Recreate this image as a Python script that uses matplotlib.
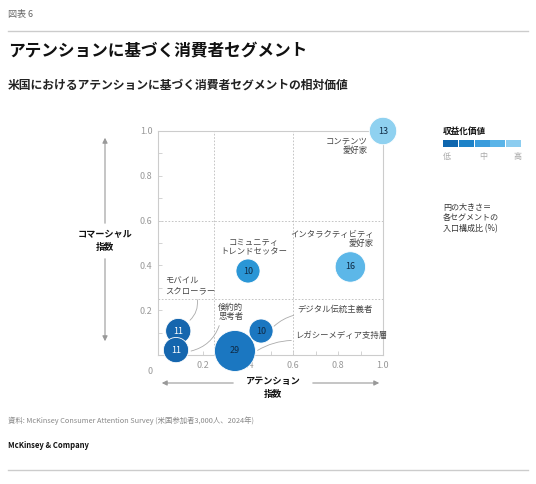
import matplotlib
matplotlib.use("Agg")
import matplotlib.pyplot as plt
from matplotlib.patches import FancyArrowPatch, Rectangle

plt.rcParams['font.family'] = ['Noto Sans CJK JP', 'DejaVu Sans']

# data
segments = ["コンテンツ\n愛好家", "インタラクティビティ\n愛好家", "コミュニティ\nトレンドセッター",
            "モバイル\nスクローラー", "倹約的\n思考者", "レガシーメディア支持層", "デジタル伝統主義者"]
attention = [1.0, 0.855, 0.40, 0.09, 0.08, 0.342, 0.458]
commercial = [1.0, 0.393, 0.375, 0.107, 0.022, 0.018, 0.107]
share = [13, 16, 10, 11, 11, 29, 10]
value_level = [4, 3, 2, 0, 0, 1, 1]

palette = ["#1566ae", "#1b77c1", "#2a96d6", "#5cb7e8", "#8fd1f0"]
legend_colors = ["#0e66ae", "#1d82c8", "#3a9cdc", "#5ab4e8", "#8ccdf0"]
legend_labels = ["低", "中", "高"]
ticks = [0.2, 0.4, 0.6, 0.8, 1.0]

W, H = 536, 484
fig = plt.figure(figsize=(W / 100, H / 100), dpi=100)


def fx(x):
    return x / W


def fy(y):
    return 1 - y / H


# header / footer
fig.text(fx(8), fy(15), "図表 6", fontsize=6.5, color="#666666", va="center")
fig.add_artist(plt.Line2D([fx(8), fx(528)], [fy(31), fy(31)], color="#cccccc", lw=1))
fig.text(fx(8), fy(51), "アテンションに基づく消費者セグメント", fontsize=12, fontweight="bold",
         color="#111111", va="center")
fig.text(fx(8), fy(85), "米国におけるアテンションに基づく消費者セグメントの相対価値", fontsize=8.5,
         fontweight="bold", color="#222222", va="center")
fig.text(fx(8), fy(421), "資料: McKinsey Consumer Attention Survey (米国参加者3,000人、2024年)",
         fontsize=5.3, color="#888888", va="center")
fig.text(fx(8), fy(446), "McKinsey & Company", fontsize=5.5, fontweight="bold", color="#111111",
         va="center")
fig.add_artist(plt.Line2D([fx(8), fx(528)], [fy(470), fy(470)], color="#cccccc", lw=1))

# main axes
ax = fig.add_axes([fx(158), fy(355), 225 / W, 224 / H])
ax.set_xlim(0, 1)
ax.set_ylim(0, 1)
for s in ax.spines.values():
    s.set_color("#cccccc")
    s.set_linewidth(0.8)
ax.set_xticks(ticks)
ax.set_yticks(ticks)
ax.set_xticklabels(["%.1f" % t for t in ticks])
ax.set_yticklabels(["%.1f" % t for t in ticks])
ax.set_xticks([i / 10 for i in range(1, 10, 2)], minor=True)
ax.set_yticks([i / 10 for i in range(1, 10, 2)], minor=True)
ax.tick_params(which="both", direction="in", length=3, color="#cccccc", width=0.6,
               labelsize=6.5, labelcolor="#999999", pad=4)
ax.text(-0.025, -0.055, "0", transform=ax.transAxes, fontsize=6.5, color="#999999",
        ha="right", va="top")

for g in [0.25, 0.6]:
    ax.axvline(g, color="#bbbbbb", lw=0.6, ls=(0, (2, 2)), zorder=1)
    ax.axhline(g, color="#bbbbbb", lw=0.6, ls=(0, (2, 2)), zorder=1)

# bubbles
ax.scatter(attention, commercial, s=[30 * v for v in share],
           c=[palette[l] for l in value_level], edgecolors="white", linewidths=0.6,
           zorder=5, clip_on=False)
for x, y, v, l in zip(attention, commercial, share, value_level):
    ax.text(x, y, str(v), ha="center", va="center", fontsize=6.5, zorder=6,
            color="white" if l == 0 else "#0f2a44")

# segment labels
lab = dict(fontsize=6, color="#444444", linespacing=1.05, zorder=4)
ax.text(0.933, 0.975, segments[0], ha="right", va="top", multialignment="right", **lab)
ax.text(0.96, 0.56, segments[1], ha="right", va="top", multialignment="right", **lab)
ax.text(0.427, 0.44, segments[2], ha="center", va="bottom", multialignment="center", **lab)
ax.text(0.03, 0.35, segments[3], ha="left", va="top", **lab)
ax.text(0.267, 0.233, segments[4], ha="left", va="top", **lab)
ax.text(0.609, 0.085, segments[5], ha="left", va="center", **lab)
ax.text(0.618, 0.205, segments[6], ha="left", va="center", **lab)

# leader lines
leaders = [((0.173, 0.259), (0.133, 0.147), -0.3),
           ((0.276, 0.143), (0.135, 0.015), -0.3),
           ((0.615, 0.18), (0.507, 0.12), 0.15),
           ((0.605, 0.065), (0.432, 0.014), 0.15)]
for start, end, rad in leaders:
    ax.annotate("", xy=end, xytext=start,
                arrowprops=dict(arrowstyle="-", color="#aaaaaa", lw=0.6,
                                connectionstyle="arc3,rad=%s" % rad), zorder=3)

# axis arrows
arr = dict(arrowstyle="-|>,head_length=3,head_width=1.5", color="#999999", lw=0.8,
           transform=fig.transFigure, mutation_scale=1)
fig.add_artist(FancyArrowPatch((fx(105), fy(226)), (fx(105), fy(135)), **arr))
fig.add_artist(FancyArrowPatch((fx(105), fy(256)), (fx(105), fy(344)), **arr))
fig.add_artist(FancyArrowPatch((fx(236), fy(383)), (fx(159), fy(383)), **arr))
fig.add_artist(FancyArrowPatch((fx(310), fy(383)), (fx(382), fy(383)), **arr))
fig.text(fx(105), fy(241), "コマーシャル\n指数", fontsize=6.6, fontweight="bold", ha="center",
         va="center", multialignment="center", color="#111111", linespacing=1.45)
fig.text(fx(273), fy(388), "アテンション\n指数", fontsize=6.6, fontweight="bold", ha="center",
         va="center", multialignment="center", color="#111111", linespacing=1.45)

# legend
fig.text(fx(443), fy(131), "収益化価値", fontsize=6.2, fontweight="bold", color="#111111",
         va="center")
seg_w = (522 - 443) / len(legend_colors)
for i, c in enumerate(legend_colors):
    fig.add_artist(Rectangle((fx(443 + i * seg_w), fy(147)), (seg_w - 0.8) / W, 7 / H,
                             transform=fig.transFigure, color=c, lw=0))
for lx, t in zip([447, 483, 518], legend_labels):
    fig.text(fx(lx), fy(157), t, fontsize=5.8, color="#aaaaaa", ha="center", va="center")
fig.text(fx(443), fy(218), "円の大きさ＝\n各セグメントの\n入口構成比 (%)", fontsize=5.8,
         color="#333333", va="center", linespacing=1.25)

fig.savefig("out.png", dpi=100)
plt.close(fig)
